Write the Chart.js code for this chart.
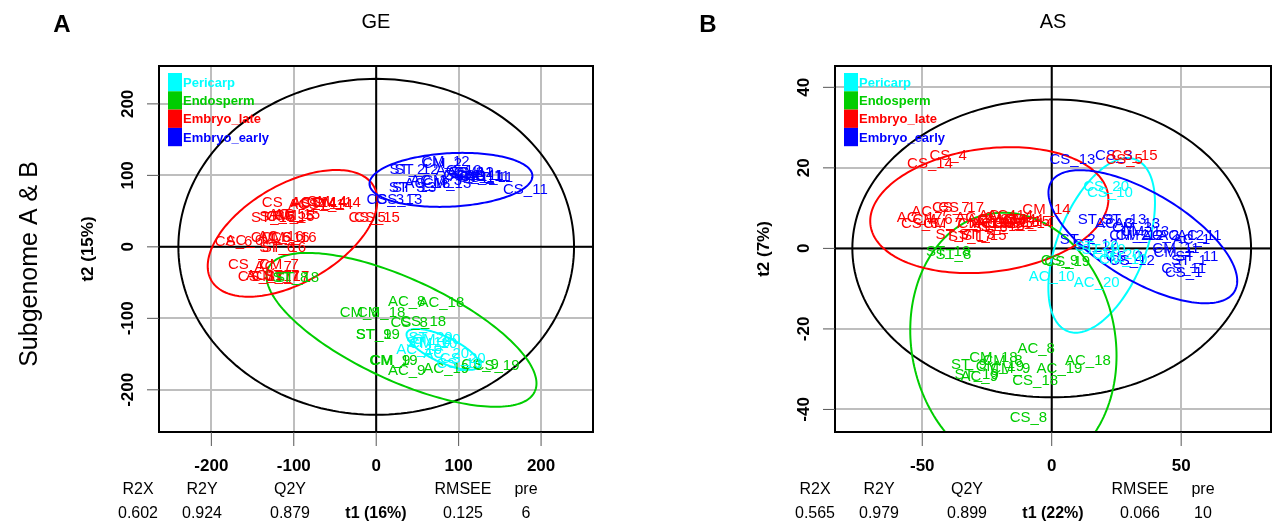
<!DOCTYPE html>
<html lang="en">
<head>
<meta charset="UTF-8">
<title>PLS-DA scores, GE and AS</title>
<script src="https://cdn.jsdelivr.net/npm/chart.js"></script>
<style>
  body { margin: 0; background: #fff; }
  #wrap { position: relative; width: 1279px; height: 528px; }
  canvas { position: absolute; top: 0; }
</style>
</head>
<body>
<div id="wrap">
  <canvas id="ge" width="640" height="528" style="left:0"></canvas>
  <canvas id="as" width="639" height="528" style="left:640px"></canvas>
</div>
<script>
const FONT = '"Liberation Sans", Arial, Helvetica, sans-serif';
const groupNames = ['Pericarp', 'Endosperm', 'Embryo_late', 'Embryo_early'];
const groupColors = ['#00ffff', '#00cd00', '#ff0000', '#0000ff'];

// GE scores: [sample, t1, t2]
const gePericarp = [['CM_20',73,-130],['CM_10',69,-135],['ST_20',66,-128],['ST_10',63,-134],
  ['AC_10',52,-144],['AC_20',85,-149],['CS_20',105,-156],['CS_10',101,-163]];
const geEndosperm = [['AC_8',37,-77],['AC_18',79,-79],['CM_8',-20,-93],['CM_18',6,-93],
  ['CS_8',40,-107],['CS_18',57,-105],['ST_9',-3,-123],['ST_19',2,-123],['CM_9',17,-160],
  ['CM_19',21,-160],['AC_9',37,-174],['AC_19',85,-170],['CS_9',126,-165],['CS_19',146,-167],
  ['ST_8',-104,-44],['ST_18',-96,-44]];
const geEmbryoLate = [['CS_4',-116,61],['AC_4',-84,59],['AC_14',-76,61],['CS_14',-64,61],
  ['CM_14',-48,61],['CM_4',-60,63],['ST_4',-70,60],['ST_14',-55,59],
  ['ST_15',-125,40],['ST_5',-120,42],['AC_5',-108,45],['CM_15',-104,42],['AC_15',-96,45],
  ['CM_5',-100,43],['CS_5',-11,40],['CS_15',1,40],
  ['CS_6',-173,7],['AC_6',-160,8],['CM_6',-128,12],['AC_16',-116,14],['CM_16',-110,12],
  ['CS_16',-100,12],['ST_6',-120,-2],['ST_16',-112,-2],
  ['CS_7',-157,-25],['AC_7',-125,-28],['CM_7',-118,-25],['CS_17',-140,-42],['AC_17',-130,-41],
  ['CM_17',-122,-42],['ST_7',-115,-41],['ST_17',-108,-42]];
const geEmbryoEarly = [['CM_12',84,119],['CM_2',80,116],['ST_12',49,108],['ST_2',38,108],
  ['AC_12',100,106],['AC_2',108,104],['CM_1',118,103],['CM_11',126,100],['AC_1',112,98],
  ['AC_11',135,98],['ST_1',122,96],['ST_11',140,96],['CS_1',130,100],['CS_2',104,100],
  ['CS_12',115,104],['CM_3',80,92],['CM_13',86,88],['AC_3',64,92],['AC_13',62,88],
  ['ST_3',37,82],['ST_13',46,82],['CS_3',11,66],['CS_13',28,66],['CS_11',181,80]];

// AS scores: [sample, t1, t2]
const asPericarp = [['CS_20',21,15.4],['CS_10',22.5,13.7],['ST_20',17.4,0.4],['ST_10',20,-0.4],
  ['CM_10',27.6,-2.9],['CM_20',25,-1.6],['AC_10',0,-7],['AC_20',17.4,-8.6]];
const asEndosperm = [['ST_18',-40,-0.8],['ST_8',-38,-1.6],['CS_19',6,-3.3],['CS_9',3,-3],
  ['AC_8',-6,-25],['AC_18',14,-28],['AC_19',3,-30],['CS_18',-6.4,-33],['CM_18',-22.5,-27.3],
  ['CM_8',-19,-28],['CM_9',-16,-30],['CM_19',-20,-29.4],['ST_9',-32,-29],['ST_19',-29,-31.4],
  ['AC_9',-28,-32],['CS_8',-9,-42]];
const asEmbryoLate = [['CS_4',-40,23],['CS_14',-47,21],['CS_5',28,22],['CS_15',32,23],
  ['AC_7',-47,9],['CS_7',-39,10],['CS_17',-35,10],['AC_17',-51,7.5],['CS_6',-51,6],
  ['CM_6',-46,7],['CM_7',-42,6],['AC_6',-30,7.5],['AC_16',-24,7],['CM_16',-19,7],
  ['CS_16',-13.5,6.3],['AC_14',-16,8],['CM_14',-2,9.6],['AC_4',-21,8],['CM_4',-11,7],
  ['CM_17',-27,6],['AC_5',-24,6],['AC_15',-20,6],['CM_5',-15,6],['CM_15',-10,6.5],
  ['ST_4',-13,7],['ST_14',-8,6],['ST_6',-24,5],['ST_16',-19,5.4],['ST_7',-38,3.4],
  ['ST_17',-31.5,2.9],['ST_5',-29,3.4],['ST_15',-26,3.2]];
const asEmbryoEarly = [['CS_13',8,22],['CS_3',24,23],['ST_3',17,7],['AC_3',24,6],
  ['ST_13',28,7],['AC_13',33,6],['CM_3',31,5],['CM_13',36,4],['CM_2',30,3],['CM_12',34,3],
  ['AC_2',42,3],['AC_12',50,3],['AC_11',57,3],['AC_1',54,2],['ST_2',10,2],['ST_12',17,1],
  ['CM_11',48,0],['CM_1',47,-1],['ST_11',56,-2],['ST_1',53,-3],['CS_11',51,-5],
  ['CS_1',51,-6],['CS_2',28,-2],['CS_12',31,-3]];

// group ellipses: [t1 centre, t2 centre, u.t1, u.t2, v.t1, v.t2] (conjugate semi-diameters)
const geEllipses = [[81,-143.4,43.7,-23.5,-6.6,-16.4],[30.7,-116.1,161.7,-86.2,-25.8,-64.5],
  [-101.5,18.9,98.5,65.9,29.8,-59.3],[90.7,93.7,98.8,6.0,1.7,-37.3]];
const asEllipses = [[19.3,0.75,13.2,21.3,15.8,-4.05],[-14.8,-23.5,9.85,-32.0,-38.6,-4.9],
  [-24.1,9.5,45.9,3.68,2.9,-15.2],[35.2,2.9,35.4,-13.6,-8.7,-9.4]];
const geHotelling = [0,0,240,0,0,235];
const asHotelling = [0,0,77,0,0,37];

const geTicksX = [-200,-100,0,100,200];
const geTicksY = [-200,-100,0,100,200];
const asTicksX = [-50,0,50];
const asTicksY = [-40,-20,0,20,40];

const statNames = ['R2X','R2Y','Q2Y','','RMSEE','pre'];
const geStats = ['0.602','0.924','0.879','t1 (16%)','0.125','6'];
const asStats = ['0.565','0.979','0.899','t1 (22%)','0.066','10'];

function drawEllipse(ctx, xs, ys, e, color) {
  const [cx, cy, ux, uy, vx, vy] = e;
  ctx.strokeStyle = color; ctx.lineWidth = 2;
  ctx.beginPath();
  for (let i = 0; i <= 200; i++) {
    const t = i / 200 * 2 * Math.PI;
    const px = xs.getPixelForValue(cx + ux * Math.cos(t) + vx * Math.sin(t));
    const py = ys.getPixelForValue(cy + uy * Math.cos(t) + vy * Math.sin(t));
    i ? ctx.lineTo(px, py) : ctx.moveTo(px, py);
  }
  ctx.stroke();
}

function decor(cfg) {
  return {
    id: 'decor',
    afterDatasetsDraw(chart) {
      const ctx = chart.ctx, ca = chart.chartArea;
      const xs = chart.scales.x, ys = chart.scales.y;
      ctx.save();
      ctx.beginPath(); ctx.rect(ca.left, ca.top, ca.right - ca.left, ca.bottom - ca.top); ctx.clip();
      // zero axes
      ctx.strokeStyle = '#000'; ctx.lineWidth = 2;
      const x0 = xs.getPixelForValue(0), y0 = ys.getPixelForValue(0);
      ctx.beginPath();
      ctx.moveTo(x0, ca.top); ctx.lineTo(x0, ca.bottom);
      ctx.moveTo(ca.left, y0); ctx.lineTo(ca.right, y0);
      ctx.stroke();
      drawEllipse(ctx, xs, ys, cfg.hotelling, '#000');
      cfg.ellipses.forEach((e, i) => drawEllipse(ctx, xs, ys, e, groupColors[i]));
      // sample names at score positions
      ctx.font = '15px ' + FONT;
      ctx.textAlign = 'center'; ctx.textBaseline = 'middle';
      [3, 2, 1, 0].forEach(i => {
        const ds = chart.data.datasets[i];
        chart.getDatasetMeta(i).data.forEach((pt, j) => {
          ctx.fillStyle = groupColors[i];
          ctx.fillText(ds.data[j].name, pt.x, pt.y);
        });
      });
      ctx.restore();

      // legend
      ctx.save();
      const lx = ca.left + 9, ly = ca.top + 7, bh = 18.3;
      ctx.font = 'bold 13px ' + FONT;
      ctx.textAlign = 'left'; ctx.textBaseline = 'middle';
      groupNames.forEach((g, i) => {
        ctx.fillStyle = groupColors[i];
        ctx.fillRect(lx, ly + i * bh, 14, bh);
        ctx.fillText(g, lx + 15, ly + i * bh + bh / 2 + 1);
      });
      ctx.restore();

      // frame
      ctx.save();
      ctx.strokeStyle = '#000'; ctx.lineWidth = 2;
      ctx.strokeRect(ca.left, ca.top, ca.right - ca.left, ca.bottom - ca.top);
      ctx.restore();
    },
    afterDraw(chart) {
      const ctx = chart.ctx, ca = chart.chartArea;
      const xs = chart.scales.x, ys = chart.scales.y;
      const cx = (ca.left + ca.right) / 2;
      ctx.save();
      ctx.strokeStyle = '#555'; ctx.lineWidth = 1;
      ctx.fillStyle = '#000';
      ctx.font = 'bold 17px ' + FONT;
      ctx.textAlign = 'center'; ctx.textBaseline = 'middle';
      cfg.xTicks.forEach(v => {
        const p = xs.getPixelForValue(v);
        ctx.beginPath(); ctx.moveTo(p, ca.bottom); ctx.lineTo(p, ca.bottom + 14); ctx.stroke();
        ctx.fillText(String(v), p, ca.bottom + 34);
      });
      cfg.yTicks.forEach(v => {
        const p = ys.getPixelForValue(v);
        ctx.beginPath(); ctx.moveTo(ca.left - 12, p); ctx.lineTo(ca.left, p); ctx.stroke();
        ctx.save(); ctx.translate(ca.left - 31, p); ctx.rotate(-Math.PI / 2);
        ctx.fillText(String(v), 0, 0); ctx.restore();
      });
      // y title
      ctx.font = 'bold 17px ' + FONT;
      ctx.save(); ctx.translate(ca.left - 71, (ca.top + ca.bottom) / 2); ctx.rotate(-Math.PI / 2);
      ctx.fillText(cfg.yTitle, 0, 0); ctx.restore();
      // model statistics under the x axis
      const offs = [-238, -174, -86, 0, 87, 150];
      offs.forEach((o, i) => {
        ctx.font = '16px ' + FONT;
        ctx.fillText(statNames[i], cx + o, ca.bottom + 58);
        ctx.font = (i === 3 ? 'bold ' : '') + '16px ' + FONT;
        ctx.fillText(cfg.stats[i], cx + o, ca.bottom + 82);
      });
      // panel title and letter
      ctx.font = '20px ' + FONT;
      ctx.fillText(cfg.title, cx, 22);
      ctx.font = 'bold 24px ' + FONT;
      ctx.fillText(cfg.letter, cfg.letterX, 25);
      if (cfg.side) {
        ctx.font = '25px ' + FONT;
        ctx.save(); ctx.translate(30, 264); ctx.rotate(-Math.PI / 2);
        ctx.fillText(cfg.side, 0, 0); ctx.restore();
      }
      ctx.restore();
    }
  };
}

function makePanel(id, cfg) {
  const datasets = cfg.groups.map((pts, i) => ({
    label: groupNames[i],
    data: pts.map(p => ({ x: p[1], y: p[2], name: p[0] })),
    pointRadius: 0, pointHoverRadius: 0,
    borderColor: groupColors[i], backgroundColor: groupColors[i]
  }));
  const axis = (range, ticks, horiz) => ({
    type: 'linear', min: range[0], max: range[1],
    afterBuildTicks: s => { s.ticks = ticks.map(v => ({ value: v })); },
    afterFit: s => { if (horiz) s.height = 0; else s.width = 0; },
    ticks: { display: false },
    grid: { color: '#bebebe', lineWidth: 2, drawTicks: false },
    border: { display: false }
  });
  return new Chart(document.getElementById(id), {
    type: 'scatter',
    data: { datasets },
    options: {
      responsive: false, animation: false, events: [],
      layout: { padding: cfg.pad },
      plugins: { legend: { display: false }, tooltip: { enabled: false } },
      scales: { x: axis(cfg.xRange, cfg.xTicks, true), y: axis(cfg.yRange, cfg.yTicks, false) }
    },
    plugins: [decor(cfg)]
  });
}

makePanel('ge', {
  groups: [gePericarp, geEndosperm, geEmbryoLate, geEmbryoEarly],
  ellipses: geEllipses, hotelling: geHotelling,
  xRange: [-263.5, 263], yRange: [-259, 253], xTicks: geTicksX, yTicks: geTicksY,
  pad: { left: 159, right: 47, top: 66, bottom: 96 },
  yTitle: 't2 (15%)', stats: geStats, title: 'GE', letter: 'A', letterX: 62,
  side: 'Subgenome A & B'
});
makePanel('as', {
  groups: [asPericarp, asEndosperm, asEmbryoLate, asEmbryoEarly],
  ellipses: asEllipses, hotelling: asHotelling,
  xRange: [-83.7, 84.7], yRange: [-45.6, 45.3], xTicks: asTicksX, yTicks: asTicksY,
  pad: { left: 195, right: 8, top: 66, bottom: 96 },
  yTitle: 't2 (7%)', stats: asStats, title: 'AS', letter: 'B', letterX: 68
});
</script>
</body>
</html>
